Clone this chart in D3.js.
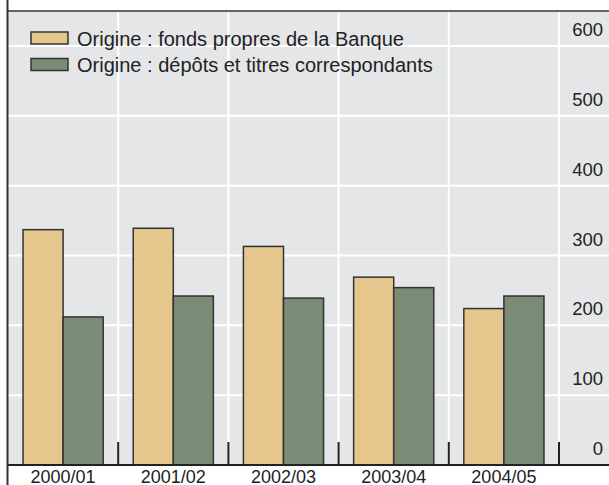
<!DOCTYPE html>
<html>
<head>
<meta charset="utf-8">
<script src="https://cdn.jsdelivr.net/npm/d3@7"></script>
<style>
  body { margin: 0; background: #fff; }
  svg { display: block; font-family: "Liberation Sans", Arial, Helvetica, sans-serif; }
</style>
</head>
<body>
<svg class="d3" width="609" height="485"></svg>
<script>
// data
var years = ["2000/01", "2001/02", "2002/03", "2003/04", "2004/05"];
var series = ["Origine : fonds propres de la Banque", "Origine : dépôts et titres correspondants"];
var fondsPropres = [337, 339, 313, 269, 224];
var depots = [212, 242, 239, 254, 242];
var yTicks = [0, 100, 200, 300, 400, 500, 600];
var colors = ["#e5c68c", "#7a8b76"];

var svg = d3.select("svg.d3"),
    width = +svg.attr("width"),
    height = +svg.attr("height");

var plotTop = 12, plotBottom = 465, plotLeft = 8;

var x = d3.scaleBand().domain(years).range([plotLeft, 559]);
var xs = d3.scaleBand().domain([0, 1]).range([0, x.bandwidth()]).paddingOuter(0.375);
var y = d3.scaleLinear().domain([0, 600]).range([plotBottom, 46]);

// plot background
svg.append("rect")
    .attr("x", plotLeft).attr("y", plotTop)
    .attr("width", width - plotLeft).attr("height", plotBottom - plotTop)
    .attr("fill", "#e5e6e8");

// grid
svg.append("g").selectAll("line")
    .data(yTicks.slice(1))
  .enter().append("line")
    .attr("x1", plotLeft).attr("x2", width)
    .attr("y1", function(d) { return y(d); })
    .attr("y2", function(d) { return y(d); })
    .attr("stroke", "#fff").attr("stroke-width", 2);

svg.append("g").selectAll("line")
    .data(years)
  .enter().append("line")
    .attr("x1", function(d) { return x(d) + x.bandwidth(); })
    .attr("x2", function(d) { return x(d) + x.bandwidth(); })
    .attr("y1", plotTop).attr("y2", plotBottom)
    .attr("stroke", "#fff").attr("stroke-width", 2);

// bars
var rows = years.map(function(yr, i) { return { year: yr, values: [fondsPropres[i], depots[i]] }; });

var group = svg.append("g").selectAll("g")
    .data(rows)
  .enter().append("g")
    .attr("transform", function(d) { return "translate(" + x(d.year) + ",0)"; });

group.selectAll("rect")
    .data(function(d) { return d.values; })
  .enter().append("rect")
    .attr("x", function(d, i) { return xs(i); })
    .attr("y", function(d) { return y(d); })
    .attr("width", xs.bandwidth())
    .attr("height", function(d) { return plotBottom - y(d); })
    .attr("fill", function(d, i) { return colors[i]; })
    .attr("stroke", "#333")
    .attr("stroke-width", 1.5);

// tick marks between categories
svg.append("g").selectAll("line")
    .data(years)
  .enter().append("line")
    .attr("x1", function(d) { return x(d) + x.bandwidth(); })
    .attr("x2", function(d) { return x(d) + x.bandwidth(); })
    .attr("y1", plotBottom - 23).attr("y2", plotBottom)
    .attr("stroke", "#222").attr("stroke-width", 2);

// frame
svg.append("line").attr("x1", plotLeft).attr("x2", width).attr("y1", 11).attr("y2", 11)
    .attr("stroke", "#333").attr("stroke-width", 1.5);
svg.append("line").attr("x1", plotLeft).attr("x2", width).attr("y1", plotBottom).attr("y2", plotBottom)
    .attr("stroke", "#222").attr("stroke-width", 2);
svg.append("line").attr("x1", 7.5).attr("x2", 7.5).attr("y1", 0).attr("y2", height)
    .attr("stroke", "#333").attr("stroke-width", 2);

// y labels
svg.append("g").selectAll("text")
    .data(yTicks)
  .enter().append("text")
    .attr("x", 603)
    .attr("y", function(d) { return y(d) - 10; })
    .attr("text-anchor", "end")
    .attr("font-size", 18.5)
    .attr("fill", "#222")
    .text(function(d) { return d; });

// x labels
svg.append("g").selectAll("text")
    .data(years)
  .enter().append("text")
    .attr("x", function(d) { return x(d) + x.bandwidth() / 2; })
    .attr("y", 483)
    .attr("text-anchor", "middle")
    .attr("font-size", 18)
    .attr("fill", "#222")
    .text(function(d) { return d; });

// legend
var legend = svg.append("g").selectAll("g")
    .data(series)
  .enter().append("g")
    .attr("transform", function(d, i) { return "translate(31," + (32 + i * 26.5) + ")"; });

legend.append("rect")
    .attr("width", 37).attr("height", 12)
    .attr("fill", function(d, i) { return colors[i]; })
    .attr("stroke", "#333").attr("stroke-width", 1.5);

legend.append("text")
    .attr("x", 46).attr("y", 13.5)
    .attr("font-size", 20)
    .attr("fill", "#222")
    .text(function(d) { return d; });
</script>
</body>
</html>
